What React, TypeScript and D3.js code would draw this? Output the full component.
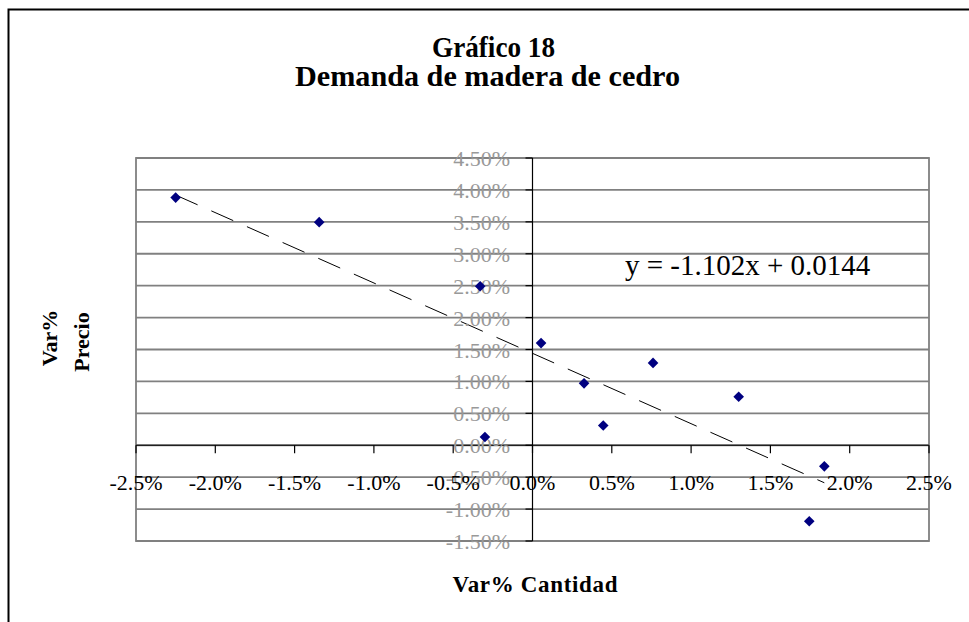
import React from "react";
import * as d3 from "d3";

const titleLines = ["Gráfico 18", "Demanda de madera de cedro"];
const xTitle = "Var%  Cantidad";
const yTitleLines = ["Var%", "Precio"];
// values in percent
const xVals = [-2.25, -1.345, -0.33, 0.054, 0.325, 0.446, 0.76, 1.3, -0.3, 1.84, 1.745];
const yVals = [3.88, 3.495, 2.49, 1.6, 0.97, 0.31, 1.29, 0.76, 0.13, -0.33, -1.19];
const xTicks = [-2.5, -2.0, -1.5, -1.0, -0.5, 0.0, 0.5, 1.0, 1.5, 2.0, 2.5];
const yTicks = [4.5, 4.0, 3.5, 3.0, 2.5, 2.0, 1.5, 1.0, 0.5, 0.0, -0.5, -1.0, -1.5];
const trendSlope = -1.102;
const trendIntercept = 0.0144;
const equationText = "y = -1.102x + 0.0144";

const FONT = "'Liberation Serif', 'Times New Roman', serif";

export default function App() {
  const W = 969;
  const H = 622;
  const left = 136, right = 929, top = 158, bottom = 541;
  const x = d3.scaleLinear().domain([-2.5, 2.5]).range([left, right]);
  const y = d3.scaleLinear().domain([-1.5, 4.5]).range([bottom, top]);
  const x0 = x(0);
  const y0 = y(0);

  const tx = [d3.min(xVals) as number, d3.max(xVals) as number];
  const trend = (v: number) => trendSlope * v + trendIntercept * 100;
  const lineGen = d3
    .line<number>()
    .x((d) => x(d))
    .y((d) => y(trend(d)));

  const diamond = d3.symbol().type(d3.symbolDiamond2).size(72)();

  return (
    <svg
      width={W}
      height={H}
      style={{ position: "absolute", left: 0, top: 0, background: "#fff" }}
      fontFamily={FONT}
    >
      <rect x={0} y={0} width={W} height={H} fill="#fff" />
      {/* outer frame */}
      <rect x={8.5} y={9.5} width={W} height={H} fill="none" stroke="#000" strokeWidth={2} />

      {/* title */}
      <text
        x={432}
        y={57}
        fontSize={30}
        fontWeight="bold"
        fill="#000"
        textLength={123}
        lengthAdjust="spacingAndGlyphs"
      >
        {titleLines[0]}
      </text>
      <text
        x={295}
        y={86}
        fontSize={29}
        fontWeight="bold"
        fill="#000"
        textLength={385}
        lengthAdjust="spacingAndGlyphs"
      >
        {titleLines[1]}
      </text>

      {/* gridlines */}
      {yTicks.map((t) => (
        <line key={"g" + t} x1={left} x2={right} y1={y(t)} y2={y(t)} stroke="#808080" strokeWidth={1.8} />
      ))}
      {/* plot border */}
      <rect x={left} y={top} width={right - left} height={bottom - top} fill="none" stroke="#808080" strokeWidth={1.8} />

      {/* axes */}
      <line x1={x0} x2={x0} y1={top} y2={bottom} stroke="#000" strokeWidth={1.2} />
      <line x1={left} x2={right} y1={y0} y2={y0} stroke="#000" strokeWidth={1.2} />
      {yTicks.map((t) => (
        <line key={"yt" + t} x1={x0 - 7} x2={x0} y1={y(t)} y2={y(t)} stroke="#000" strokeWidth={1.2} />
      ))}
      {xTicks.map((t) => (
        <line key={"xt" + t} x1={x(t)} x2={x(t)} y1={y0} y2={y0 + 8} stroke="#000" strokeWidth={1.2} />
      ))}

      {/* trendline */}
      <path d={lineGen(tx) || ""} fill="none" stroke="#000" strokeWidth={1} strokeDasharray="24,15" />

      {/* y tick labels */}
      {yTicks.map((t) => (
        <text
          key={"yl" + t}
          x={510}
          y={y(t) + 8}
          textAnchor="end"
          fontSize={22}
          fill="#999999"
        >
          {t.toFixed(2) + "%"}
        </text>
      ))}
      {/* x tick labels */}
      {xTicks.map((t) => (
        <text key={"xl" + t} x={x(t)} y={490} textAnchor="middle" fontSize={22} fill="#000">
          {t.toFixed(1) + "%"}
        </text>
      ))}

      {/* points */}
      {xVals.map((v, i) => (
        <path key={"p" + i} d={diamond || ""} transform={`translate(${x(v)},${y(yVals[i])})`} fill="#000080" />
      ))}

      {/* equation */}
      <text x={625} y={275} fontSize={29} fill="#000">
        {equationText}
      </text>

      {/* axis titles */}
      <text x={535} y={592} textAnchor="middle" fontSize={23} fontWeight="bold" textLength={165} lengthAdjust="spacing">
        {xTitle}
      </text>
      <text transform="translate(57,338) rotate(-90)" textAnchor="middle" fontSize={22} fontWeight="bold">
        {yTitleLines[0]}
      </text>
      <text transform="translate(89,342) rotate(-90)" textAnchor="middle" fontSize={22} fontWeight="bold">
        {yTitleLines[1]}
      </text>
    </svg>
  );
}
